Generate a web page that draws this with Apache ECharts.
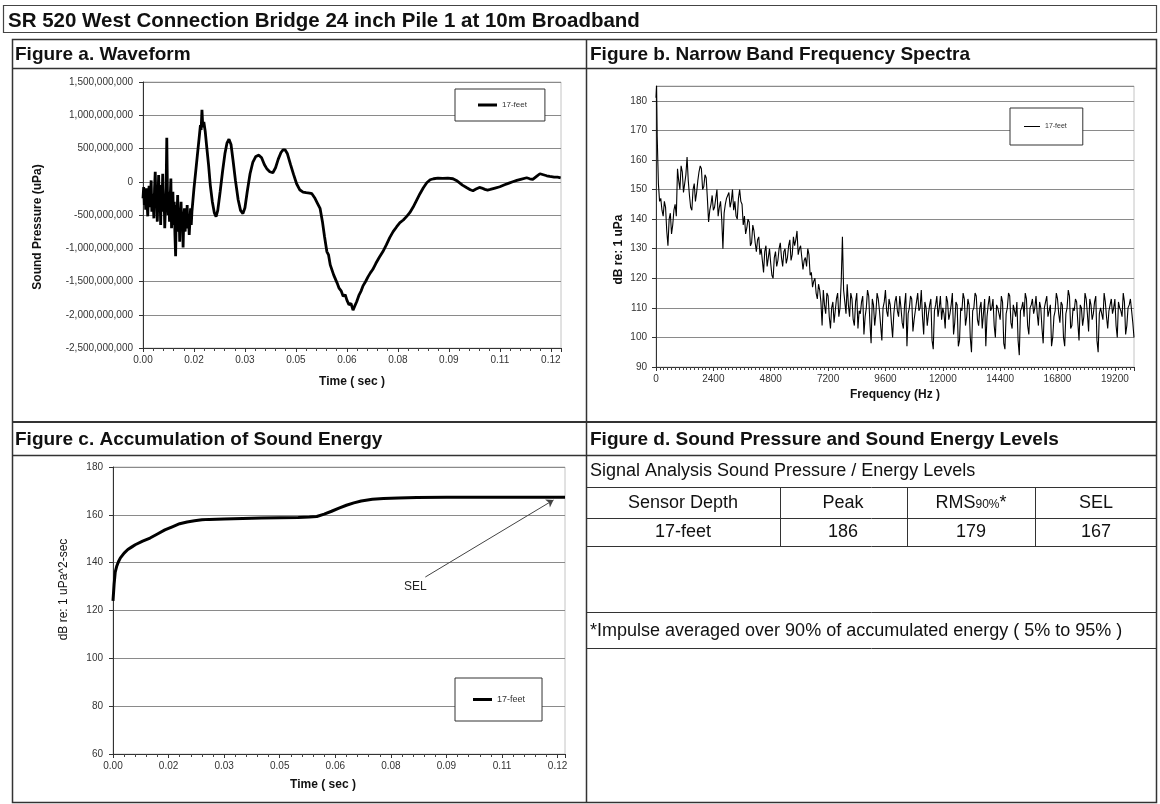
<!DOCTYPE html>
<html>
<head>
<meta charset="utf-8">
<title>SR 520 West Connection Bridge 24 inch Pile 1 at 10m Broadband</title>
<script src="https://cdn.jsdelivr.net/npm/echarts@6.0.0/dist/echarts.min.js"></script>
<style>
  html, body { margin: 0; padding: 0; background: #fff; }
  #main { width: 1160px; height: 804px; }
</style>
</head>
<body>
<div id="main"></div>
<script>
var FONT = 'Arial, "Liberation Sans", sans-serif';

// ---- Figure a. Waveform (time in ms, pressure in millions of uPa) ----
var waveTimeMs = [
  0, 0.2, 0.4, 0.6, 0.8, 1.0, 1.2, 1.4, 1.6, 1.8,
  2.0, 2.2, 2.4, 2.6, 2.8, 3.0, 3.2, 3.4, 3.6, 3.8,
  4.0, 4.2, 4.4, 4.6, 4.8, 5.0, 5.2, 5.4, 5.6, 5.8,
  6.0, 6.2, 6.4, 6.6, 6.8, 7.0, 7.2, 7.4, 7.6, 7.8,
  8.0, 8.2, 8.4, 8.6, 8.8, 9.0, 9.2, 9.4, 9.6, 9.8,
  10.0, 10.2, 10.4, 10.6, 10.8, 11.0, 11.2, 11.4, 11.6, 11.8,
  12.0, 12.2, 12.4, 12.6, 12.8, 13.0, 13.2, 13.4, 13.6, 13.8,
  14.0, 14.2, 14.4,
  15.0, 15.5, 16.0, 16.5, 16.9, 17.1, 17.35, 17.6, 17.9, 18.3,
  18.8, 19.3, 19.8, 20.4, 21.0, 21.5, 22.0, 22.7, 23.4, 24.1,
  24.7, 25.3, 25.9, 26.5, 27.2, 28.0, 28.7, 29.4, 30.0, 30.7,
  31.5, 32.3, 33.2, 34.1, 34.9, 35.7, 36.5, 37.3, 38.2, 39.0,
  39.8, 40.6, 41.2, 41.8, 42.5, 43.4, 44.3, 45.2, 46.1, 47.1,
  48.0, 49.0, 49.7, 50.5, 51.3, 52.1, 52.8, 53.4, 54.1, 54.6,
  55.1, 55.6, 56.1, 56.6, 57.1, 57.7, 58.3, 58.9, 59.5, 60.0,
  60.6, 61.2, 61.8, 62.3, 62.9, 63.6, 64.2, 64.7, 65.5, 66.2,
  66.9, 67.6, 68.5, 69.5, 70.6, 71.6, 72.6, 73.6, 74.6, 75.6,
  76.6, 77.6, 78.5, 79.5, 80.5, 81.5, 82.5, 83.5, 84.5, 85.5,
  86.8, 88.2, 89.7, 91.2, 92.5, 94.0, 95.3, 96.3, 97.1, 98.0,
  99.0, 99.7, 100.6, 101.4, 102.2, 103.6, 105.0, 106.4, 107.7, 108.8,
  110.0, 111.4, 112.9, 113.8, 114.7, 115.8, 116.8, 117.8, 118.8, 119.7,
  121.0, 122.0, 122.9
];
var wavePressureM = [
  -250, -80, -350, -150, -420, -100, -300, -520, -200, -60,
  -380, -250, 20, -450, -180, -300, -550, -100, 150, -320,
  -200, -600, -250, 100, -400, -150, -650, -50, -300, 120,
  -450, -200, -700, -350, -100, 660, -200, -500, -150, -600,
  -250, 50, -700, -400, -150, -650, -300, -800, -1120, -350,
  -550, -200, -750, -400, -900, -500, -300, -700, -450, -990,
  -550, -400, -750, -500, -650, -350, -700, -550, -800, -600,
  -400, -650, -450,
  -100, 150, 400, 650, 850, 780, 1080, 820, 900, 760,
  500, 250, -50, -300, -470, -525, -430, -150, 150, 420,
  580, 640, 560, 320, 20, -270, -430, -480, -390, -140,
  120, 290, 380, 400, 360, 260, 190, 150, 135, 210,
  340, 440, 480, 480, 420, 260, 110, -30, -120, -155,
  -165, -170, -180, -240, -320, -400, -600, -820, -1050, -1100,
  -1250, -1230, -1400, -1380, -1520, -1600, -1640, -1720, -1700, -1780,
  -1850, -1830, -1930, -1870, -1800, -1700, -1640, -1570, -1500, -1430,
  -1370, -1320, -1230, -1140, -1050, -950, -840, -750, -680, -615,
  -575, -520, -465, -380, -280, -180, -90, -15, 30, 45,
  55, 50, 55, 45, 10, -50, -90, -120, -135, -110,
  -85, -95, -115, -125, -115, -95, -75, -45, -20, 0,
  20, 40, 60, 45, 35, 80, 120, 105, 90, 80,
  70, 70, 60
];
var timeTicks = ['0.00', '0.02', '0.03', '0.05', '0.06', '0.08', '0.09', '0.11', '0.12'];
var waveYTicks = ['-2,500,000,000', '-2,000,000,000', '-1,500,000,000', '-1,000,000,000',
  '-500,000,000', '0', '500,000,000', '1,000,000,000', '1,500,000,000'];

// ---- Figure b. Narrow band spectrum (dB re 1 uPa), 50 Hz bins from 50 Hz ----
var specLowHz = [0, 25];
var specLowDb = [181, 185];
var specStartHz = 50;
var specStepHz = 50;
var specDb = [
  168, 152, 146, 147, 143, 141, 146, 144, 136, 131, 140, 142, 135, 138, 143, 145, 141, 157, 153, 150,
  158, 156, 149, 152, 155, 161, 153, 148, 144, 143, 150, 152, 146, 149, 153, 156, 158, 157, 150, 151,
  155, 154, 147, 139, 143, 145, 148, 143, 144, 147, 150, 141, 144, 146, 140, 130, 142, 145, 147, 148,
  149, 144, 146, 150, 143, 146, 141, 140, 147, 150, 146, 145, 138, 141, 135, 137, 140, 139, 131, 132,
  138, 136, 132, 129, 133, 134, 128, 130, 126, 122, 129, 131, 124, 127, 130, 125, 121, 120, 127, 129,
  124, 126, 130, 132, 127, 124, 129, 130, 125, 127, 131, 133, 126, 128, 134, 131, 133, 136, 128, 130,
  131, 127, 123, 126, 127, 124, 130, 128, 121, 122, 117, 119, 120, 115, 113, 118, 116, 112, 104, 116,
  111, 108, 115, 114, 107, 103, 110, 112, 105, 109, 113, 115, 107, 110, 119, 134, 116, 112, 108, 118,
  111, 107, 115, 113, 106, 104, 112, 115, 103, 109, 108, 112, 114, 101, 107, 110, 116, 114, 105, 98,
  113, 111, 104, 108, 115, 113, 109, 104, 99, 110, 112, 116, 109, 107, 113, 111, 105, 100, 108, 112,
  114, 109, 107, 114, 110, 105, 103, 111, 115, 97, 108, 110, 114, 113, 102, 106, 109, 112, 115, 109,
  110, 116, 107, 101, 112, 110, 104, 108, 111, 113, 99, 96, 109, 111, 114, 107, 110, 114, 106, 110,
  108, 103, 114, 112, 106, 108, 111, 115, 101, 105, 112, 111, 97, 99, 110, 109, 115, 113, 104, 107,
  113, 111, 100, 95, 109, 110, 115, 114, 106, 104, 110, 112, 103, 108, 113, 97, 107, 111, 114, 109,
  110, 113, 104, 100, 111, 110, 108, 106, 114, 112, 98, 96, 108, 110, 115, 114, 105, 103, 111, 109,
  107, 112, 99, 94, 109, 110, 112, 107, 115, 113, 104, 101, 110, 111, 113, 108, 110, 114, 108, 104,
  112, 110, 103, 98, 110, 112, 114, 107, 109, 111, 97, 100, 107, 109, 115, 113, 108, 105, 112, 111,
  100, 97, 108, 110, 116, 114, 103, 104, 110, 109, 113, 112, 105, 99, 111, 110, 104, 107, 115, 113,
  108, 102, 113, 111, 106, 108, 112, 114, 99, 95, 108, 110, 110, 106, 115, 112, 107, 103, 109, 111,
  113, 108, 110, 113, 104, 100, 112, 110, 109, 107, 115, 112, 101, 104, 110, 111, 113, 109, 105, 100
];
var specXTicks = ['0', '2400', '4800', '7200', '9600', '12000', '14400', '16800', '19200'];
var specYTicks = ['90', '100', '110', '120', '130', '140', '150', '160', '170', '180'];

// ---- Figure c. Accumulated sound energy (dB re 1 uPa^2-sec) ----
var selTimeMs = [
  0, 0.3, 0.6, 1, 1.5, 2, 3, 4, 5, 6,
  8, 10, 12, 14, 16, 18, 20, 22, 24, 26,
  30, 35, 40, 45, 50, 53, 55, 57, 59, 61,
  63, 65, 67, 70, 73, 77, 82, 90, 100, 110,
  122
];
var selDb = [
  124, 131, 136, 138.5, 140.5, 142, 144, 145.5, 146.5, 147.5,
  149, 150.3, 152, 153.7, 155, 156.3, 157, 157.5, 157.9, 158.1,
  158.3, 158.5, 158.7, 158.8, 158.9, 159.1, 159.3, 160.3, 161.5, 162.8,
  164, 165, 165.8, 166.5, 166.8, 167, 167.2, 167.3, 167.4, 167.4,
  167.4
];
var selYTicks = ['60', '80', '100', '120', '140', '160', '180'];
var selArrowFrom = [0.0843, 134];
var selArrowTo = [0.1189, 166.2];
var selLabelAt = [0.0816, 129.8];

// ---- Figure d. table ----
var tableCaption = 'Signal Analysis Sound Pressure / Energy Levels';
var tableHeader = ['Sensor Depth', 'Peak', 'RMS90%*', 'SEL'];
var tableRow = ['17-feet', '186', '179', '167'];
var tableNote = '*Impulse averaged over 90% of accumulated energy ( 5% to 95% )';

var waveData = waveTimeMs.map(function (t, i) { return [t / 1000, wavePressureM[i] * 1e6]; });
var specData = specLowHz.map(function (f, i) { return [f, specLowDb[i]]; })
  .concat(specDb.map(function (v, i) { return [specStartHz + i * specStepHz, v]; }));
var selData = selTimeMs.map(function (t, i) { return [t / 1000, selDb[i]]; });

function tickFmt(arr) {
  return function (v, i) { return arr[i] !== undefined ? arr[i] : ''; };
}

function xAxisOf(grid, max, interval, ticks, minorSplit, name, gap, pad) {
  return {
    type: 'value', gridIndex: grid, min: 0, max: max, interval: interval,
    name: name, nameLocation: 'middle', nameGap: gap,
    nameTextStyle: { fontFamily: FONT, fontSize: 12, fontWeight: 'bold', color: '#111', padding: pad || 0 },
    axisLine: { show: true, onZero: false, lineStyle: { color: '#333', width: 1 } },
    axisTick: { show: true, length: 4, lineStyle: { color: '#333' } },
    minorTick: { show: true, splitNumber: minorSplit, length: 3, lineStyle: { color: '#444' } },
    splitLine: { show: false },
    axisLabel: { formatter: tickFmt(ticks), showMaxLabel: false, margin: 7,
      fontFamily: FONT, fontSize: 10, color: '#333' }
  };
}

function yAxisOf(grid, min, max, interval, ticks, showMax, name, gap, pad, weight, margin) {
  return {
    type: 'value', gridIndex: grid, min: min, max: max, interval: interval,
    name: name, nameLocation: 'middle', nameGap: gap,
    nameTextStyle: { fontFamily: FONT, fontSize: 12, fontWeight: weight, color: '#111', padding: pad || 0 },
    axisLine: { show: true, onZero: false, lineStyle: { color: '#333', width: 1 } },
    axisTick: { show: true, length: 4, lineStyle: { color: '#333' } },
    splitLine: { show: true, lineStyle: { color: '#8a8a8a', width: 1 } },
    axisLabel: { formatter: tickFmt(ticks), showMaxLabel: showMax, margin: margin,
      fontFamily: FONT, fontSize: 10, color: '#333' }
  };
}

function legendOf(seriesName, left, top, padding, iconW, iconH, fontSize) {
  return {
    data: [seriesName], left: left, top: top, padding: padding,
    icon: 'rect', itemWidth: iconW, itemHeight: iconH, selectedMode: false,
    formatter: function () { return '17-feet'; },
    textStyle: { fontFamily: FONT, fontSize: fontSize, color: '#333' },
    borderColor: '#333', borderWidth: 1, backgroundColor: '#fff'
  };
}

function line(x1, y1, x2, y2, w) {
  return { type: 'line', silent: true, shape: { x1: x1, y1: y1, x2: x2, y2: y2 },
    style: { stroke: '#333', lineWidth: w || 1 } };
}
function text(str, x, y, size, align, weight) {
  return { type: 'text', silent: true,
    style: { text: str, x: x, y: y, textAlign: align || 'left', textVerticalAlign: 'middle',
      font: (weight || 'normal') + ' ' + size + 'px ' + FONT, fill: '#111' } };
}

var colCenters = [683, 843, 971, 1096];
var TD = 18;
var graphics = [
  { type: 'rect', silent: true, shape: { x: 3.5, y: 5.5, width: 1153, height: 27 },
    style: { fill: 'none', stroke: '#444', lineWidth: 1.2 } },
  { type: 'rect', silent: true, shape: { x: 12.5, y: 39.5, width: 1144, height: 763 },
    style: { fill: 'none', stroke: '#333', lineWidth: 1.5 } },
  line(12, 68.5, 1157, 68.5, 1.5),
  line(586.5, 39, 586.5, 803, 1.5),
  line(12, 422, 1157, 422, 2),
  line(12, 455.5, 1157, 455.5, 1.5),
  line(586, 487.5, 1157, 487.5, 1),
  line(586, 518.5, 1157, 518.5, 1),
  line(586, 546.5, 1157, 546.5, 1),
  line(586, 612.5, 1157, 612.5, 1),
  line(586, 648.5, 1157, 648.5, 1),
  line(780.5, 487, 780.5, 546, 1),
  line(907.5, 487, 907.5, 546, 1),
  line(1035.5, 487, 1035.5, 546, 1),
  text('SR 520 West Connection Bridge 24 inch Pile 1 at 10m Broadband', 8, 21, 20.5, 'left', 'bold'),
  text('Figure a. Waveform', 15, 55, 19, 'left', 'bold'),
  text('Figure b. Narrow Band Frequency Spectra', 590, 55, 19, 'left', 'bold'),
  text('Figure c. Accumulation of Sound Energy', 15, 440, 19, 'left', 'bold'),
  text('Figure d. Sound Pressure and Sound Energy Levels', 590, 440, 19, 'left', 'bold'),
  text(tableCaption, 590, 471, TD),
  text(tableHeader[0], colCenters[0], 503, TD, 'center'),
  text(tableHeader[1], colCenters[1], 503, TD, 'center'),
  { type: 'text', silent: true,
    style: { text: '{m|RMS}{s|90%}{m|*}', x: colCenters[2], y: 503, textAlign: 'center', textVerticalAlign: 'middle',
      fill: '#111',
      rich: { m: { fontFamily: FONT, fontSize: TD, color: '#111' },
              s: { fontFamily: FONT, fontSize: 12, color: '#111', padding: [4, 0, 0, 0] } } } },
  text(tableHeader[3], colCenters[3], 503, TD, 'center'),
  text(tableRow[0], colCenters[0], 532.5, TD, 'center'),
  text(tableRow[1], colCenters[1], 532.5, TD, 'center'),
  text(tableRow[2], colCenters[2], 532.5, TD, 'center'),
  text(tableRow[3], colCenters[3], 532.5, TD, 'center'),
  text(tableNote, 590, 631, TD)
];

var option = {
  animation: false,
  backgroundColor: '#fff',
  textStyle: { fontFamily: FONT },
  grid: [
    { left: 143, top: 82, width: 418, height: 266, show: true, borderColor: '#c4c4c4', borderWidth: 1 },
    { left: 656, top: 86, width: 478, height: 281, show: true, borderColor: '#c4c4c4', borderWidth: 1 },
    { left: 113, top: 467, width: 452, height: 287, show: true, borderColor: '#c4c4c4', borderWidth: 1 }
  ],
  xAxis: [
    xAxisOf(0, 0.123, 0.015, timeTicks, 5, 'Time ( sec )', 28, 0),
    xAxisOf(1, 20000, 2400, specXTicks, 15, 'Frequency (Hz )', 22, 0),
    xAxisOf(2, 0.122, 0.015, timeTicks, 5, 'Time ( sec )', 25, [0, 32, 0, 0])
  ],
  yAxis: [
    yAxisOf(0, -2.5e9, 1.5e9, 5e8, waveYTicks, true, 'Sound Pressure (uPa)', 99, [0, 24, 0, 0], 'bold', 10),
    yAxisOf(1, 90, 185, 10, specYTicks, false, 'dB re: 1 uPa', 31, [0, 46, 0, 0], 'bold', 9),
    yAxisOf(2, 60, 180, 20, selYTicks, true, 'dB re: 1 uPa^2-sec', 43, [0, 0, 0, 42], 'normal', 10)
  ],
  legend: [
    legendOf('wave', 455, 89, [12, 18, 12, 23], 19, 3, 8),
    legendOf('spectrum', 1010, 108, [15, 16, 15, 14], 16, 1, 7),
    legendOf('sel', 455, 678, [17, 17, 17, 18], 19, 3, 9)
  ],
  series: [
    { name: 'wave', type: 'line', xAxisIndex: 0, yAxisIndex: 0, data: waveData,
      symbol: 'none', lineStyle: { color: '#000', width: 2.8 }, itemStyle: { color: '#000' } },
    { name: 'spectrum', type: 'line', xAxisIndex: 1, yAxisIndex: 1, data: specData,
      symbol: 'none', lineStyle: { color: '#000', width: 1.1 }, itemStyle: { color: '#000' } },
    { name: 'sel', type: 'line', xAxisIndex: 2, yAxisIndex: 2, data: selData,
      symbol: 'none', lineStyle: { color: '#000', width: 3 }, itemStyle: { color: '#000' },
      markLine: {
        silent: true, symbol: ['none', 'arrow'], symbolSize: 7,
        lineStyle: { color: '#444', width: 1, type: 'solid' },
        label: { show: false },
        data: [[{ coord: selArrowFrom }, { coord: selArrowTo }]]
      },
      markPoint: {
        silent: true, symbol: 'circle', symbolSize: 1,
        itemStyle: { color: 'rgba(0,0,0,0)' },
        label: { show: true, position: 'inside', formatter: 'SEL',
          fontFamily: FONT, fontSize: 12, color: '#222' },
        data: [{ coord: selLabelAt }]
      } }
  ],
  graphic: graphics
};

var chart = echarts.init(document.getElementById('main'));
chart.setOption(option);
window.onresize = function () { chart.resize(); };
</script>
</body>
</html>
